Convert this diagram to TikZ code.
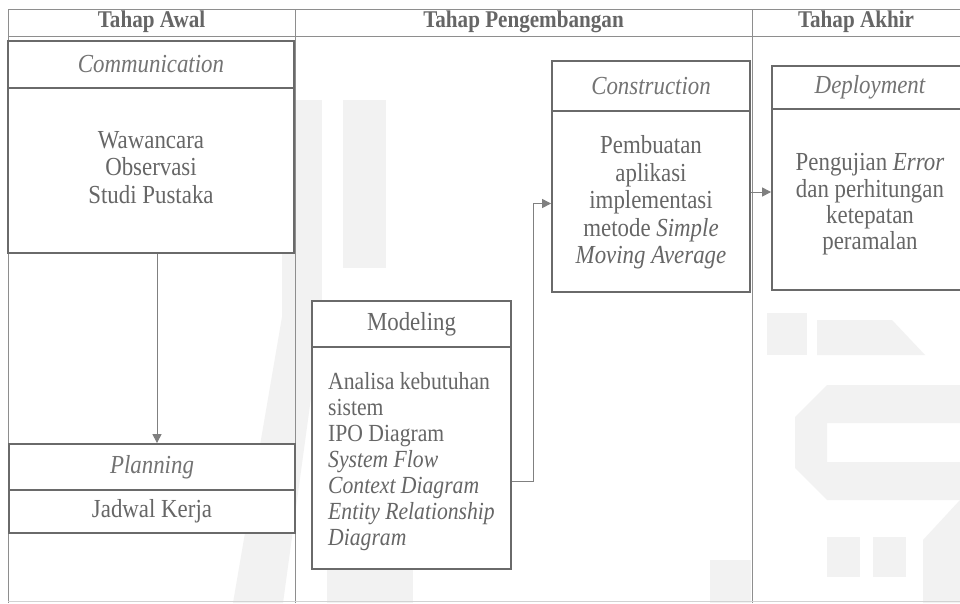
\documentclass[tikz,border=0pt]{standalone}
\usepackage{fontspec}
\setmainfont{Liberation Serif}[FakeStretch=0.88]
\usetikzlibrary{arrows.meta}

\definecolor{boxline}{HTML}{6A6A6A}
\definecolor{tabline}{HTML}{8E8E8E}
\definecolor{ink}{HTML}{666666}
\definecolor{inklight}{HTML}{737373}
\definecolor{wmark}{HTML}{F2F2F2}

\tikzset{
  grid line/.style={draw=tabline, line width=1pt},
  head/.style={text=ink, font=\fontsize{24}{26}\selectfont\bfseries, inner sep=0pt},
  phasebox/.style={draw=boxline, line width=1.8pt, fill=white, inner sep=0pt,
    align=center, text=ink, font=\fontsize{26}{27.5}\selectfont},
  phasetitle/.style={phasebox, text=inklight, font=\fontsize{26}{27}\selectfont\itshape},
  bodytext/.style={inner sep=0pt, align=center, text=ink, font=\fontsize{26}{27.5}\selectfont},
  flow/.style={draw=boxline!85, line width=1pt,
    -{Triangle[length=9pt,width=9pt]}},
  wm/.style={fill=wmark, draw=none}
}

\begin{document}
\begin{tikzpicture}[x=1pt,y=-1pt]
  \useasboundingbox (0,0) rectangle (960,603);
  \clip (0,0) rectangle (960,603);
  \fill[white] (0,0) rectangle (960,603);

  % faint logo watermark in the background
  \fill[wm] (282,100) rectangle (322,317);
  \fill[wm] (282,317) -- (322,317) -- (283,603) -- (233,603) -- cycle;
  \fill[wm] (343,100) rectangle (386,268);
  \fill[wm] (327,560) rectangle (413,603);
  \fill[wm] (767,313) rectangle (807,355);
  \fill[wm] (817,320) -- (892,320) -- (925,355) -- (817,355) -- cycle;
  \fill[wm, even odd rule] (827,385) -- (960,385) -- (960,500) -- (827,500)
        -- (795,468) -- (795,417) -- cycle (827,423) rectangle (960,462);
  \fill[wm] (827,537) rectangle (860,577);
  \fill[wm] (873,537) rectangle (906,577);
  \fill[wm] (923,540) -- (960,500) -- (960,603) -- (923,603) -- cycle;
  \fill[wm] (710,560) rectangle (751,603);

  % table grid
  \draw[grid line] (8,9) -- (960,9);
  \draw[grid line] (8,36) -- (960,36);
  \draw[grid line] (8,9) -- (8,603);
  \draw[grid line] (295,9) -- (295,603);
  \draw[grid line] (752,9) -- (752,603);
  \draw[draw=tabline!40, line width=1pt] (8,601) -- (960,601);

  % column headings
  \node[head] (h1) at (151.5,22) {Tahap Awal};
  \node[head] (h2) at (523.5,22) {Tahap Pengembangan};
  \node[head] (h3) at (856,22) {Tahap Akhir};

  % Communication
  \node[phasetitle, minimum width=286pt, minimum height=47pt] (commt) at (151,64.5) {Communication};
  \node[phasebox, minimum width=286pt, minimum height=165pt] (commb) at (151,170.5) {};
  \node[bodytext] (commtext) at ([yshift=3pt]commb.center) {Wawancara\\Observasi\\Studi Pustaka};

  % Planning
  \node[phasetitle, minimum width=286pt, minimum height=46pt] (plant) at (152,467) {Planning};
  \node[phasebox, minimum width=286pt, minimum height=43pt] (planb) at (152,511.5) {Jadwal Kerja};

  % Modeling
  \node[phasebox, minimum width=199pt, minimum height=46pt] (modt) at (411.5,324) {Modeling};
  \node[phasebox, minimum width=199pt, minimum height=222pt] (modb) at (411.5,458) {};
  \node[bodytext, align=left, font=\fontsize{24.6}{26}\selectfont] (modtext)
    at ([yshift=-4pt]modb.center)
    {Analisa kebutuhan\\sistem\\IPO Diagram\\\textit{System Flow}\\\textit{Context Diagram}\\%
     \textit{Entity Relationship}\\\textit{Diagram}};

  % Construction
  \node[phasetitle, minimum width=198pt, minimum height=50pt] (const) at (651,86) {Construction};
  \node[phasebox, minimum width=198pt, minimum height=181pt] (consb) at (651,201.5) {};
  \node[bodytext] (constext) at ([yshift=-1pt]consb.center)
    {Pembuatan\\aplikasi\\implementasi\\metode \textit{Simple}\\\textit{Moving Average}};

  % Deployment
  \node[phasetitle, minimum width=196pt, minimum height=43pt] (dept) at (870,87.5) {Deployment};
  \node[phasebox, minimum width=196pt, minimum height=181pt] (depb) at (870,199.5) {};
  \node[bodytext, font=\fontsize{26}{26.3}\selectfont] (deptext) at ([yshift=-5pt]depb.center)
    {Pengujian \textit{Error}\\dan perhitungan\\ketepatan\\peramalan};

  % flow between phases
  \draw[flow] ([xshift=6pt]commb.south) -- ([xshift=5pt]plant.north);
  \draw[flow] ([yshift=-23pt]modb.east) -- ++(22,0) |- ([yshift=-2pt]consb.west);
  \draw[flow] ([yshift=9.5pt]consb.east) -- ([yshift=7.5pt]depb.west);
\end{tikzpicture}
\end{document}
